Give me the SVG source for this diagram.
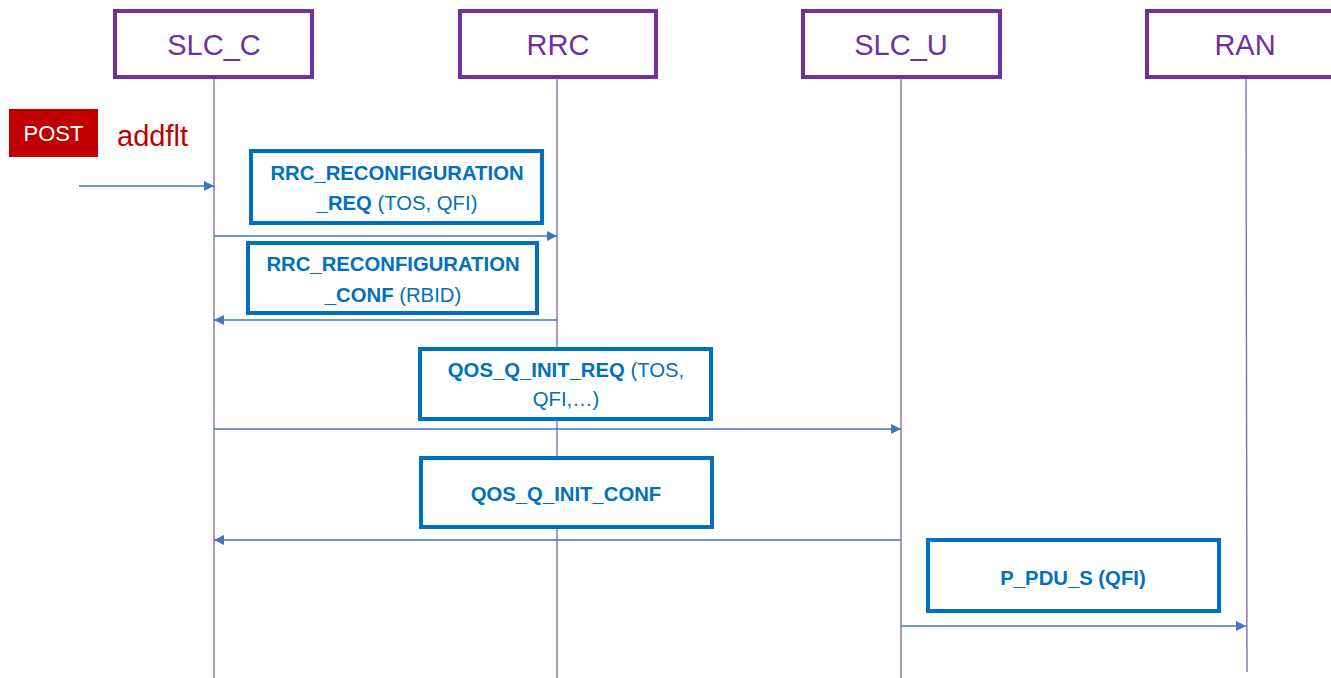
<svg xmlns="http://www.w3.org/2000/svg" width="1331" height="678" viewBox="0 0 1331 678">
<defs>
<marker id="ah" viewBox="0 0 10 10" refX="10" refY="5" markerWidth="10" markerHeight="10" markerUnits="userSpaceOnUse" orient="auto">
<path d="M0,0 L10,5 L0,10 z" fill="#4472C4"/>
</marker>
<style>
.actor{fill:#fff;stroke:#7030A0;stroke-width:4}
.atext{font-family:"Liberation Sans",Arial,sans-serif;font-size:29px;fill:#7030A0;text-anchor:middle}
.life{stroke:#8064A2;stroke-width:1.3}
.msg{fill:#fff;stroke:#0070C0;stroke-width:4}
.mtext{font-family:"Liberation Sans",Arial,sans-serif;font-size:20.3px;fill:#0070C0;text-anchor:middle}
.b{font-weight:bold}
.arr{stroke:#4472C4;stroke-width:1.3;fill:none;marker-end:url(#ah)}
</style>
</defs>
<rect width="1331" height="678" fill="#fff"/>
<g id="lifelines">
<line class="life" x1="214" y1="78" x2="214" y2="678"/>
<line class="life" x1="557" y1="78" x2="557" y2="678"/>
<line class="life" x1="901" y1="78" x2="901" y2="678"/>
<line class="life" x1="1246" y1="78" x2="1247" y2="672"/>
</g>
<g id="SLC_C"><rect class="actor" x="115" y="11" width="197" height="66"/><text class="atext" x="214" y="55">SLC_C</text></g>
<g id="RRC"><rect class="actor" x="460" y="11" width="196" height="66"/><text class="atext" x="558" y="55">RRC</text></g>
<g id="SLC_U"><rect class="actor" x="803" y="11" width="197" height="66"/><text class="atext" x="901" y="55">SLC_U</text></g>
<g id="RAN"><rect class="actor" x="1147" y="11" width="190" height="66"/><text class="atext" x="1245" y="55">RAN</text></g>
<g id="POST">
<rect x="9" y="109" width="89" height="48" fill="#C00000"/>
<text x="53.5" y="141" font-family="Liberation Sans,Arial,sans-serif" font-size="22" fill="#fff" text-anchor="middle">POST</text>
<text x="117" y="146" font-family="Liberation Sans,Arial,sans-serif" font-size="29" fill="#C00000">addflt</text>
</g>
<g id="m1"><rect class="msg" x="251" y="151" width="291" height="72"/>
<text class="mtext" x="397" y="180"><tspan class="b">RRC_RECONFIGURATION</tspan></text>
<text class="mtext" x="397" y="210"><tspan class="b">_REQ</tspan> (TOS, QFI)</text></g>
<g id="m2"><rect class="msg" x="248" y="243" width="289" height="70"/>
<text class="mtext" x="393" y="271"><tspan class="b">RRC_RECONFIGURATION</tspan></text>
<text class="mtext" x="393" y="302"><tspan class="b">_CONF</tspan> (RBID)</text></g>
<g id="m3"><rect class="msg" x="420" y="349" width="291" height="70"/>
<text class="mtext" x="566" y="377"><tspan class="b">QOS_Q_INIT_REQ</tspan> (TOS,</text>
<text class="mtext" x="566" y="406">QFI,…)</text></g>
<g id="m4"><rect class="msg" x="421" y="458" width="291" height="69"/>
<text class="mtext b" x="566" y="501">QOS_Q_INIT_CONF</text></g>
<g id="m5"><rect class="msg" x="928" y="540" width="291" height="71"/>
<text class="mtext b" x="1073" y="585">P_PDU_S (QFI)</text></g>
<g id="connectors">
<line class="arr" x1="79" y1="186" x2="214" y2="186"/>
<line class="arr" x1="214" y1="236" x2="557" y2="236"/>
<line class="arr" x1="557" y1="320" x2="214" y2="320"/>
<line class="arr" x1="214" y1="429" x2="901" y2="429"/>
<line class="arr" x1="901" y1="540" x2="214" y2="540"/>
<line class="arr" x1="901" y1="626" x2="1246" y2="626"/>
</g>
</svg>
